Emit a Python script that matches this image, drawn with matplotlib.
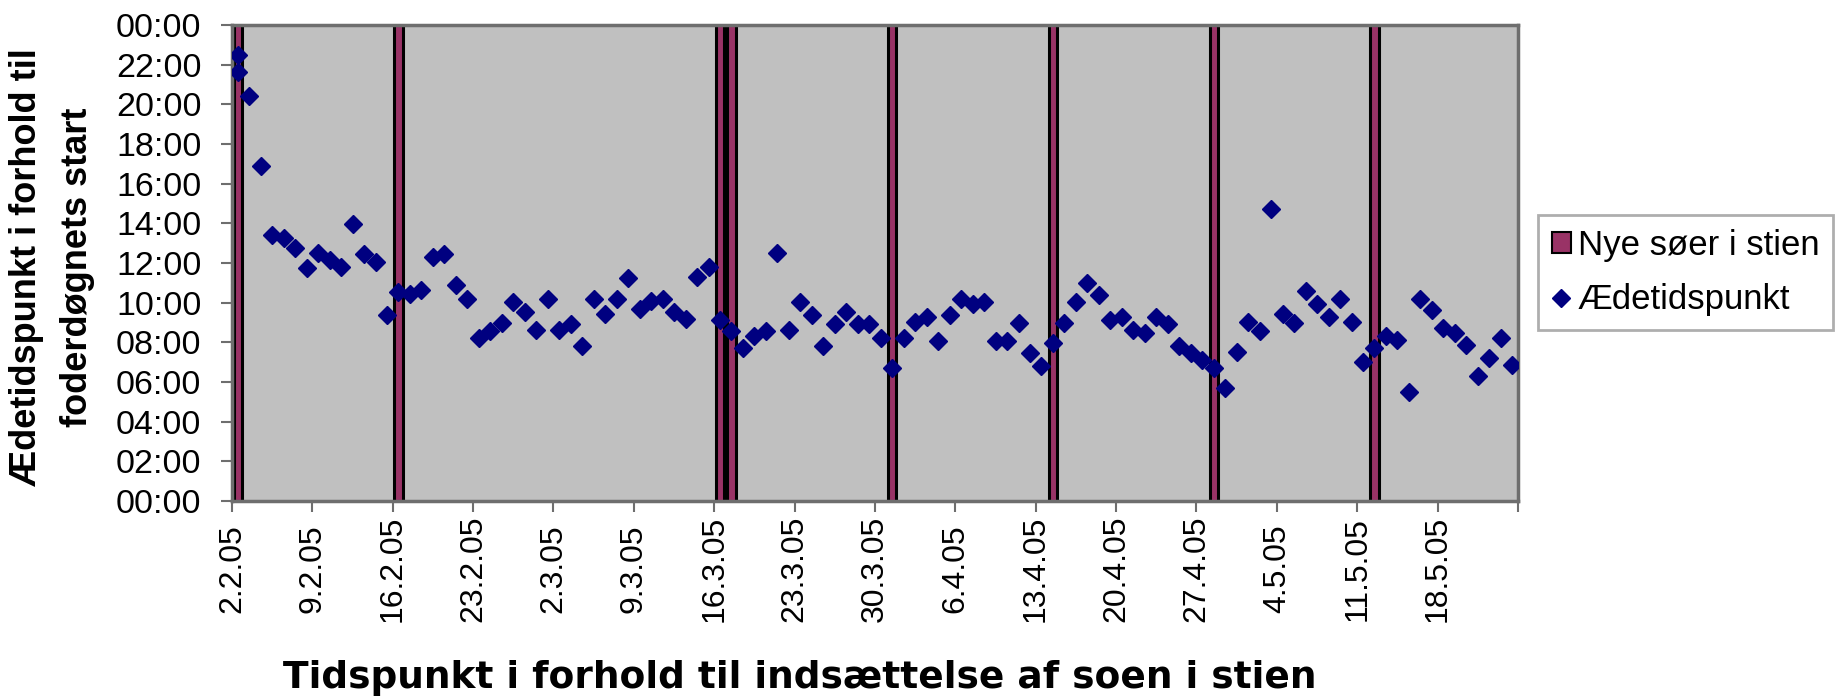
import datetime as dt

import matplotlib
matplotlib.use("Agg")
import matplotlib.pyplot as plt
from matplotlib.patches import Patch
from matplotlib.lines import Line2D

plt.rcParams["font.family"] = ["Liberation Sans", "DejaVu Sans"]

# Days counted from the first day in the pen (2.2.05)
start_date = dt.date(2005, 2, 2)
axis_days = 112
tick_step = 7

# Days on which new sows were put into the pen
new_sow_days = [0, 14, 42, 43, 57, 71, 85, 99]
new_sow_value = 24

# Feeding time (hours after start of the feeding day) per day
feed_days = [
    0, 0, 1, 2, 3, 4, 5, 6, 7, 8, 9, 10, 11, 12, 13, 14, 15, 16, 17, 18, 19,
    20, 21, 22, 23, 24, 25, 26, 27, 28, 29, 30, 31, 32, 33, 34, 35, 36, 37, 38,
    39, 40, 41, 42, 43, 44, 45, 46, 47, 48, 49, 50, 51, 52, 53, 54, 55, 56, 57,
    58, 59, 60, 61, 62, 63, 64, 65, 66, 67, 68, 69, 70, 71, 72, 73, 74, 75, 76,
    77, 78, 79, 80, 81, 82, 83, 84, 85, 86, 87, 88, 89, 90, 91, 92, 93, 94, 95,
    96, 97, 98, 99, 100, 101, 102, 103, 104, 105, 106, 107, 108, 109, 110, 111,
]
feed_hours = [
    22.5, 21.65, 20.4, 16.9, 13.4, 13.25, 12.75, 11.75, 12.5, 12.15, 11.8,
    13.95, 12.45, 12.05, 9.4, 10.55, 10.45, 10.65, 12.3, 12.45, 10.9,
    10.2, 8.2, 8.55, 8.95, 10.05, 9.55, 8.6, 10.2, 8.6, 8.9,
    7.8, 10.2, 9.45, 10.2, 11.25, 9.7, 10.1, 10.2, 9.55, 9.2,
    11.3, 11.8, 9.15, 8.55, 7.7, 8.3, 8.55, 12.5, 8.6, 10.05,
    9.4, 7.8, 8.9, 9.55, 8.9, 8.9, 8.2, 6.7, 8.2, 9.05,
    9.3, 8.05, 9.4, 10.2, 9.95, 10.05, 8.05, 8.05, 8.95, 7.45,
    6.8, 7.95, 8.95, 10.05, 11.0, 10.4, 9.15, 9.3, 8.6, 8.45,
    9.3, 8.9, 7.8, 7.45, 7.1, 6.7, 5.7, 7.5, 9.05, 8.55,
    14.7, 9.45, 8.95, 10.6, 9.95, 9.3, 10.2, 9.05, 7.0, 7.7,
    8.3, 8.1, 5.5, 10.2, 9.65, 8.7, 8.45, 7.85, 6.3, 7.2,
    8.2, 6.85,
]

legend_labels = ["Nye søer i stien", "Ædetidspunkt"]
x_title = "Tidspunkt i forhold til indsættelse af soen i stien"
y_title = "Ædetidspunkt i forhold til\nfoderdøgnets start"

sow_color = "#993366"
point_color = "#000080"
plot_bg = "#c0c0c0"
frame_color = "#6e6e6e"

W, H = 1840, 696
fig = plt.figure(figsize=(W / 100, H / 100), dpi=100)
ax = fig.add_axes([232 / W, 1 - 501 / H, (1518 - 232) / W, (501 - 25) / H])
ax.set_facecolor(plot_bg)

# each day occupies one unit; marks sit in the middle of their day
ax.bar([d + 0.5 for d in new_sow_days], [new_sow_value] * len(new_sow_days),
       width=0.72, color=sow_color, edgecolor="black", linewidth=2.2, zorder=2)
ax.plot([d + 0.5 for d in feed_days], feed_hours, linestyle="none",
        marker="D", markersize=8.8, color=point_color, zorder=3)

ax.set_xlim(0, axis_days)
ax.set_ylim(0, 24)

yt = list(range(0, 25, 2))
ax.set_yticks(yt)
ax.set_yticklabels([f"{h % 24:02d}:00" for h in yt])

xt = list(range(0, axis_days + 1, tick_step))
xlabels = []
for d in xt:
    date = start_date + dt.timedelta(days=d)
    xlabels.append(f"{date.day}.{date.month}.{date:%y}" if d < axis_days else "")
ax.set_xticks(xt)
ax.set_xticklabels(xlabels)
plt.setp(ax.get_xticklabels(), rotation=90, va="center", ha="center")

ax.tick_params(axis="y", direction="out", length=8, width=1.5, color=frame_color,
               labelsize=24.5, pad=14)
ax.tick_params(axis="x", direction="out", length=8, width=1.5, color=frame_color,
               labelsize=23, pad=41)

for side in ["left", "right", "top", "bottom"]:
    ax.spines[side].set_color(frame_color)
    ax.spines[side].set_linewidth(2.5)

fig.text(800 / W, 1 - 678 / H, x_title, ha="center", va="center",
         fontsize=27, fontweight="bold", family="DejaVu Sans")
fig.text(52 / W, 1 - 267 / H, y_title, ha="center", va="center",
         rotation=90, multialignment="center", fontsize=26,
         fontweight="bold", linespacing=1.58)

handles = [
    Patch(facecolor=sow_color, edgecolor="black", linewidth=1.5),
    Line2D([], [], linestyle="none", marker="D", markersize=8.8, color=point_color),
]
leg = fig.legend(handles, legend_labels, loc="upper left",
                 bbox_to_anchor=(1538 / W, 1 - 215 / H), borderaxespad=0,
                 frameon=True, fancybox=False, edgecolor="#9a9a9a",
                 fontsize=25, handlelength=0.55, handleheight=0.55,
                 handletextpad=0.2, borderpad=0.4, labelspacing=0.62)
leg.get_frame().set_linewidth(2)

fig.savefig("out.png", dpi=100, facecolor="white")
